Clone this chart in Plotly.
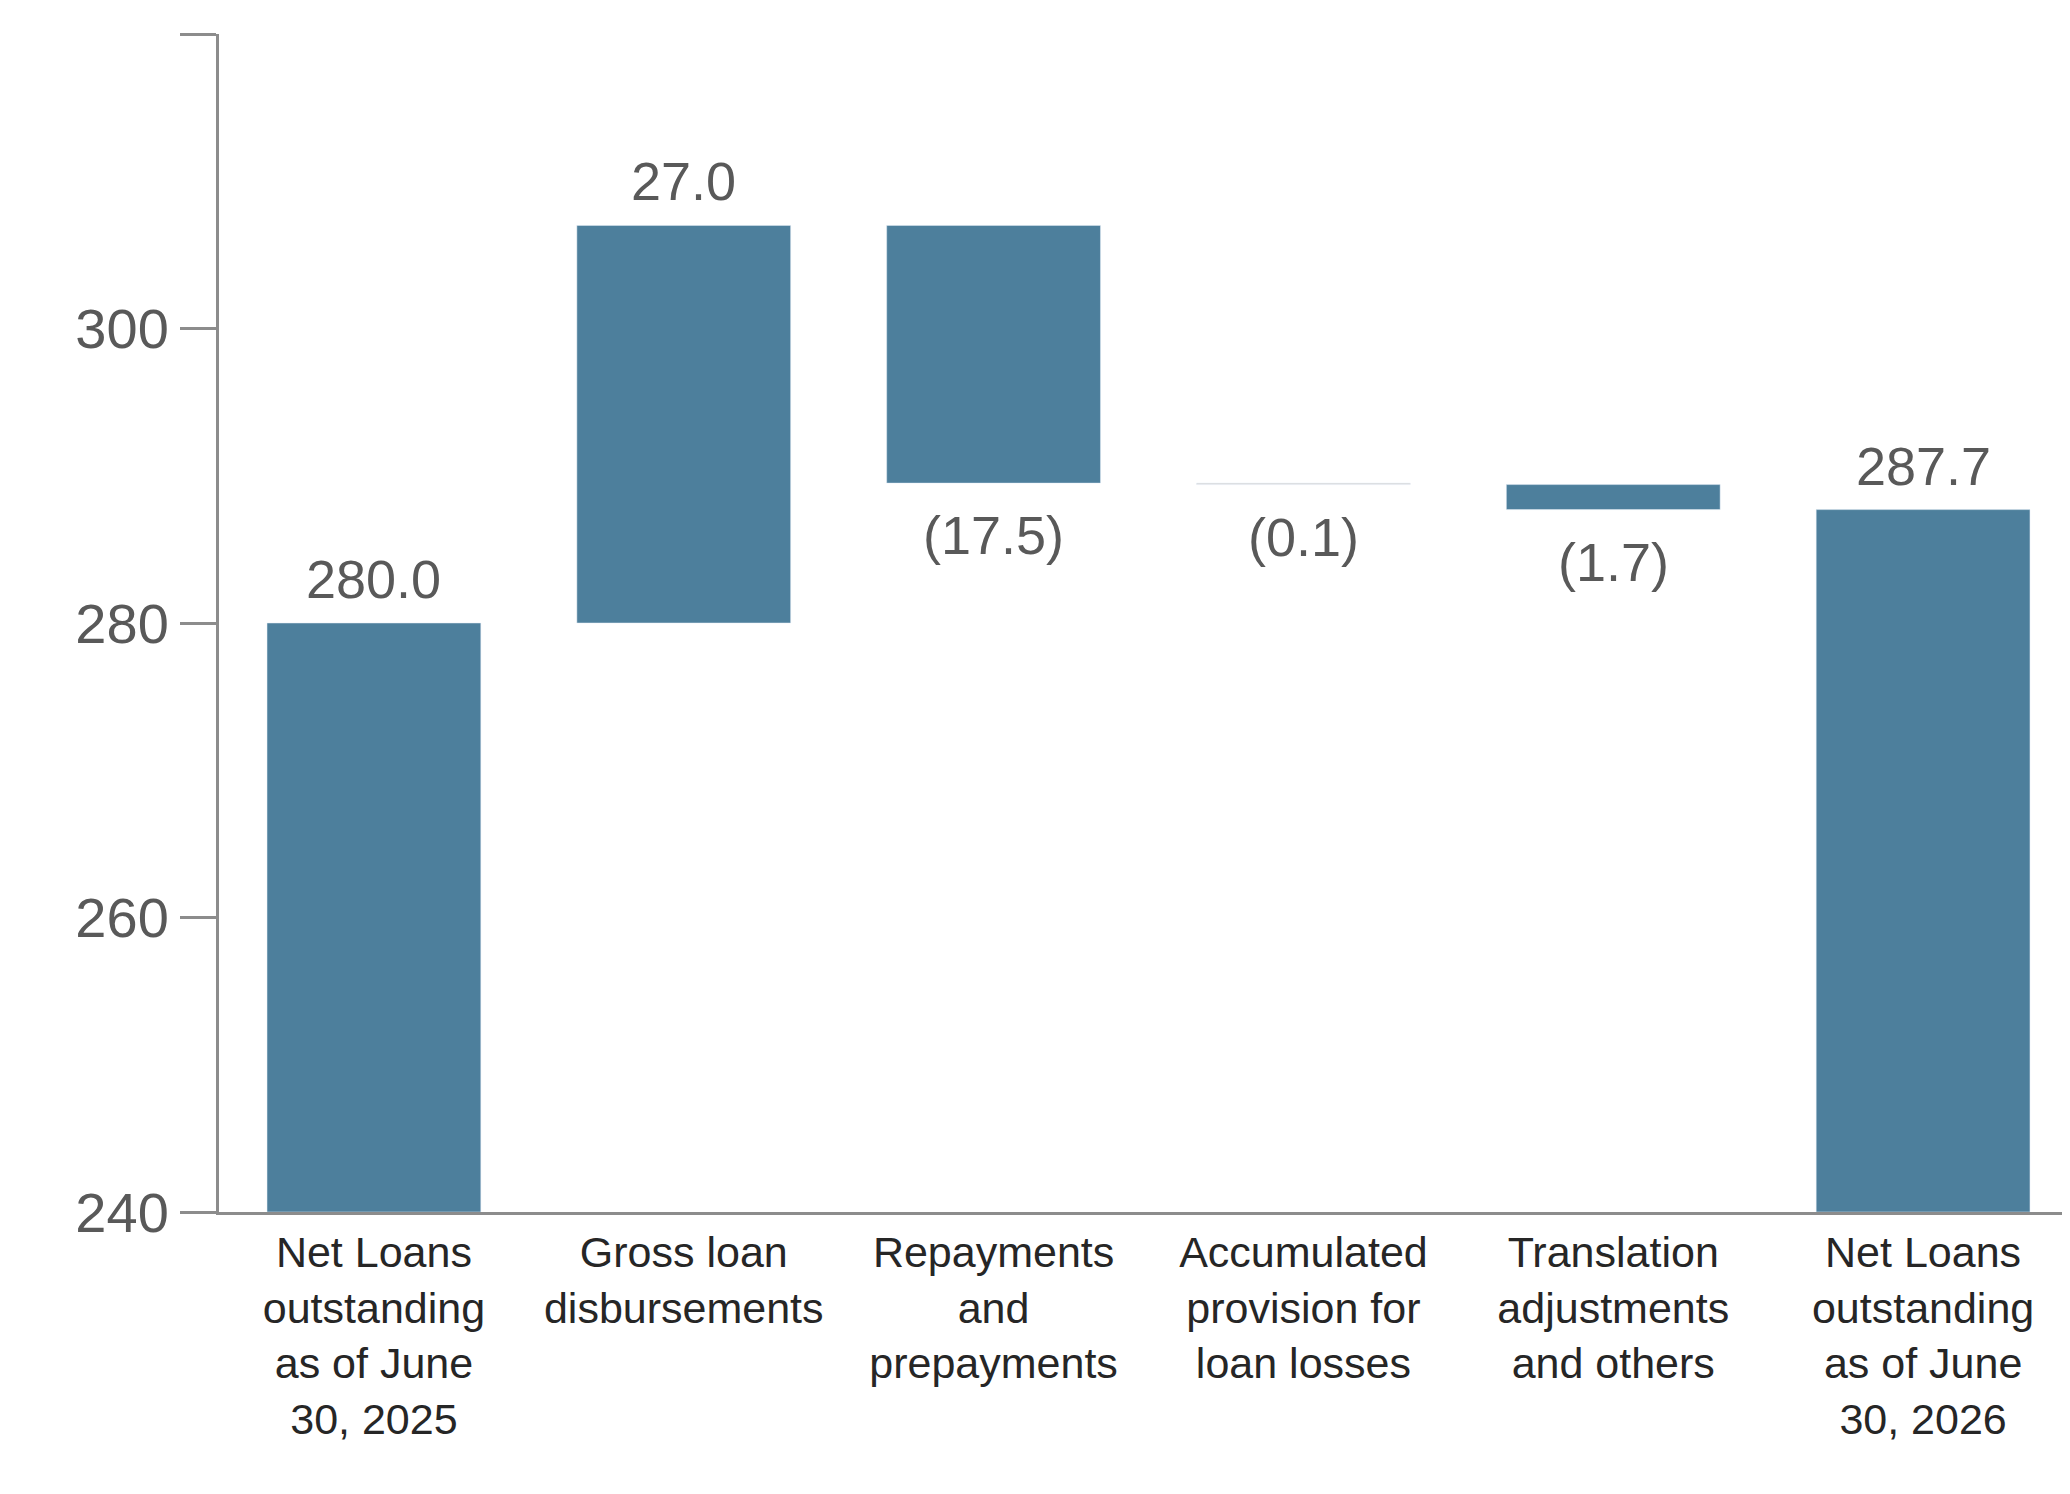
import plotly.graph_objects as go

categories = ["Net Loans<br>outstanding<br>as of June<br>30, 2025", "Gross loan<br>disbursements",
              "Repayments<br>and<br>prepayments", "Accumulated<br>provision for<br>loan losses",
              "Translation<br>adjustments<br>and others", "Net Loans<br>outstanding<br>as of June<br>30, 2026"]
values = [280.0, 27.0, -17.5, -0.1, -1.7, 287.7]
kinds = ["total", "rel", "rel", "rel", "rel", "total"]
labels = ["280.0", "27.0", "(17.5)", "(0.1)", "(1.7)", "287.7"]
colors = ["#4d7f9c", "#4d7f9c", "#4d7f9c", "#d9d9d9", "#4d7f9c", "#4d7f9c"]

AXMIN = 240
bases, heights = [], []
run = 0
for v, k in zip(values, kinds):
    if k == "total":
        bases.append(AXMIN); heights.append(v - AXMIN); run = v
    else:
        lo, hi = sorted([run, run + v])
        bases.append(lo); heights.append(hi - lo); run += v

fig = go.Figure(go.Bar(x=categories, y=heights, base=bases, marker_color=colors,
                       width=0.69, hoverinfo="skip"))
for c, v, b, h, lab in zip(categories, values, bases, heights, labels):
    if v >= 0:
        fig.add_annotation(x=c, y=b + h, text=lab, showarrow=False, yanchor="bottom", yshift=12)
    else:
        fig.add_annotation(x=c, y=b, text=lab, showarrow=False, yanchor="top", yshift=-20)
fig.update_annotations(font=dict(size=54, color="#595959", family="Liberation Sans"))

fig.update_layout(
    width=2070, height=1494, plot_bgcolor="white", paper_bgcolor="white",
    margin=dict(l=211, r=0, t=26, b=290), showlegend=False, bargap=0.31,
    font=dict(family="Liberation Sans", color="#595959"),
    yaxis=dict(range=[240, 320], dtick=20, showgrid=False, zeroline=False,
               showline=True, linecolor="#8c8c8c", linewidth=3,
               ticks="outside", ticklen=36, tickwidth=3, tickcolor="#8c8c8c",
               tickfont=dict(size=56, color="#595959")),
    xaxis=dict(showline=True, linecolor="#8c8c8c", linewidth=3, ticks="",
               tickfont=dict(size=43, color="#262626")),
)
fig.write_html("out.html")
